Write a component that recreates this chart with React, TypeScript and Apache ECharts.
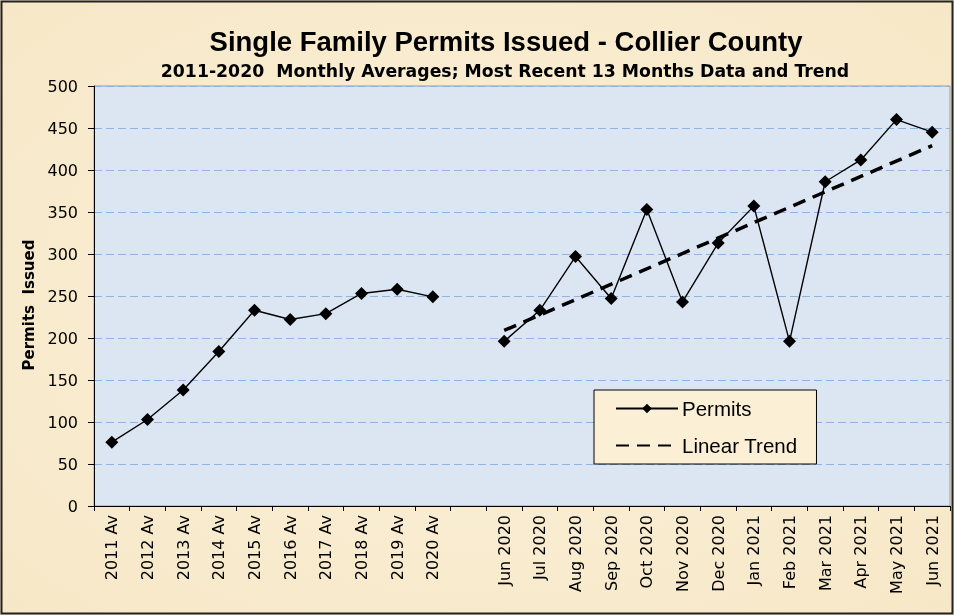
import React, { useEffect, useRef } from "react";
import * as echarts from "echarts";

const categories = [
  "2011 Av", "2012 Av", "2013 Av", "2014 Av", "2015 Av", "2016 Av", "2017 Av", "2018 Av", "2019 Av", "2020 Av",
  "",
  "Jun 2020", "Jul 2020", "Aug 2020", "Sep 2020", "Oct 2020", "Nov 2020", "Dec 2020",
  "Jan 2021", "Feb 2021", "Mar 2021", "Apr 2021", "May 2021", "Jun 2021",
];
const annualAverages = [76, 103, 138, 184, 233, 222, 229, 253, 258, 249];
const recentMonths = [196, 233, 297, 247, 353, 243, 313, 357, 196, 386, 412, 460, 445];
const trendStart = 209;
const trendEnd = 429;
const yTicks = { min: 0, max: 500, interval: 50 };

const permitsData: (number | null)[] = [...annualAverages, null, ...recentMonths];
const trendData: (number | null)[] = categories.map((_, i) =>
  i === annualAverages.length + 1 ? trendStart : i === categories.length - 1 ? trendEnd : null
);

const ARIAL = "Arial, 'Liberation Sans', sans-serif";
const DEJAVU = "'DejaVu Sans', Arial, sans-serif";

export default function App() {
  const ref = useRef<HTMLDivElement>(null);
  useEffect(() => {
    if (!ref.current) return;
    const chart = echarts.init(ref.current, null, { renderer: "svg" });
    chart.setOption({
      animation: false,
      backgroundColor: {
        type: "radial",
        x: 0.5,
        y: 0.5,
        r: 0.8,
        colorStops: [
          { offset: 0, color: "#fbf1da" },
          { offset: 1, color: "#f6e6c4" },
        ],
      },
      title: [
        {
          text: "Single Family Permits Issued - Collier County",
          left: 501,
          top: 22,
          textAlign: "center",
          textStyle: { fontFamily: ARIAL, fontWeight: "bold", fontSize: 27.5, color: "#000" },
        },
        {
          text: "2011-2020  Monthly Averages; Most Recent 13 Months Data and Trend",
          left: 500,
          top: 57,
          textAlign: "center",
          textStyle: { fontFamily: DEJAVU, fontWeight: "bold", fontSize: 17.3, color: "#000" },
        },
      ],
      graphic: [
        {
          type: "rect",
          shape: { x: 1.5, y: 1.5, width: 951, height: 612 },
          style: { fill: "none", stroke: "#222", lineWidth: 2 },
          silent: true,
          z: 100,
        },
      ],
      legend: {
        orient: "vertical",
        left: 594,
        top: 390,
        backgroundColor: "#fbf0d6",
        borderColor: "#000",
        borderWidth: 1,
        borderRadius: 0,
        padding: [8, 19, 8, 21],
        itemGap: 16,
        itemWidth: 62,
        itemHeight: 12,
        textStyle: { fontFamily: ARIAL, fontSize: 20.5, lineHeight: 20, color: "#000", padding: [0, 0, 0, -1] },
        data: [
          { name: "Permits" },
          { name: "Linear Trend", itemStyle: { opacity: 0 } },
        ],
      },
      grid: {
        left: 94,
        top: 86,
        right: 4,
        bottom: 109,
        show: true,
        backgroundColor: "#dce6f2",
        borderColor: "#9a9a9a",
        borderWidth: 1,
      },
      xAxis: {
        type: "category",
        data: categories,
        boundaryGap: true,
        axisLine: { lineStyle: { color: "#000", width: 1 } },
        axisTick: { show: true, interval: 0, length: 5, lineStyle: { color: "#000" } },
        axisLabel: {
          interval: 0,
          rotate: 90,
          fontFamily: DEJAVU,
          fontSize: 16,
          color: "#000",
          margin: 9,
        },
        splitLine: { show: false },
      },
      yAxis: {
        type: "value",
        min: yTicks.min,
        max: yTicks.max,
        interval: yTicks.interval,
        name: "Permits  Issued",
        nameLocation: "middle",
        nameGap: 57,
        nameRotate: 90,
        nameTextStyle: {
          fontFamily: DEJAVU,
          fontWeight: "bold",
          fontSize: 15,
          color: "#000",
          padding: [0, 18, 0, 0],
        },
        axisLine: { show: true, lineStyle: { color: "#000", width: 1 } },
        axisTick: { show: true, length: 6, lineStyle: { color: "#000" } },
        axisLabel: { fontFamily: DEJAVU, fontSize: 16, color: "#000", margin: 16 },
        splitLine: { show: true, lineStyle: { color: "#8db4e2", type: [8, 4], width: 1 } },
      },
      series: [
        {
          name: "Permits",
          type: "line",
          data: permitsData,
          connectNulls: false,
          symbol: "diamond",
          symbolSize: 13,
          itemStyle: { color: "#000" },
          lineStyle: { color: "#000", width: 1.4 },
          z: 3,
        },
        {
          name: "Linear Trend",
          type: "line",
          data: trendData,
          connectNulls: true,
          symbol: "none",
          lineStyle: { color: "#000", width: 3.5, type: [13, 8] },
          itemStyle: { color: "#000" },
          z: 2,
        },
      ],
    });
    return () => chart.dispose();
  }, []);
  return (
    <div
      ref={ref}
      style={{ position: "fixed", left: 0, top: 0, width: 954, height: 615 }}
    />
  );
}
